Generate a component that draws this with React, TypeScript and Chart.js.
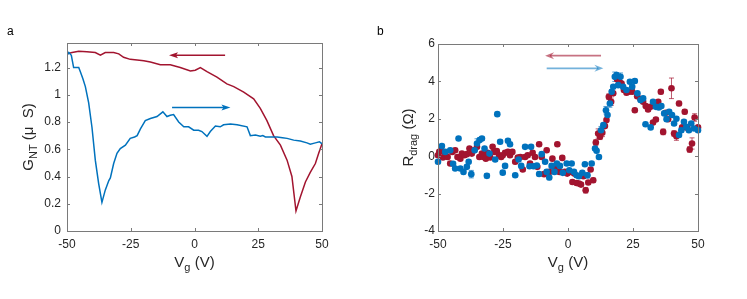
import React, { useEffect, useRef } from "react";
import { Chart, registerables } from "chart.js";
Chart.register(...registerables);

const RED = "#A2142F";
const BLUE = "#0072BD";
const FONT = "'Liberation Sans', Arial, Helvetica, sans-serif";

// Panel a: G_NT vs Vg, forward (blue) and backward (red) sweeps
const vgBlueA = [-50, -49.3, -48.3, -47.4, -45.4, -44.8, -43.8, -42.8, -41.5, -40.2, -38.9, -37.6, -36.3, -35, -33.6, -33, -31.7, -30.4, -29.1, -27.1, -25.2, -23.5, -22.5, -21.2, -19.3, -17.3, -14.7, -12.4, -10.8, -9.5, -8.2, -6.2, -4.2, -2.3, -0.3, 1.6, 2.9, 4.9, 6.2, 8.2, 10.1, 11.4, 14.1, 16.7, 20.6, 21.9, 23.9, 25.8, 26.8, 27.8, 29.7, 32.4, 34.5, 36.3, 38.9, 41.5, 44.1, 45.4, 47.4, 49, 50];
const gBlueA = [1.29, 1.31, 1.29, 1.2, 1.2, 1.17, 1.12, 1.06, 0.94, 0.76, 0.52, 0.35, 0.21, 0.3, 0.37, 0.39, 0.495, 0.57, 0.605, 0.63, 0.68, 0.69, 0.7, 0.75, 0.81, 0.826, 0.84, 0.875, 0.84, 0.85, 0.855, 0.8, 0.765, 0.765, 0.74, 0.74, 0.73, 0.695, 0.73, 0.77, 0.765, 0.78, 0.785, 0.78, 0.765, 0.7, 0.705, 0.695, 0.7, 0.69, 0.69, 0.69, 0.685, 0.68, 0.667, 0.66, 0.647, 0.637, 0.647, 0.655, 0.64];
const vgRedA = [-50, -48, -45.4, -42.2, -38.9, -36.9, -35, -31.7, -29.7, -27.8, -25.2, -22.5, -19.9, -17.3, -13.4, -9.5, -5.6, -1.6, 0.3, 2.3, 4.9, 8.8, 12.7, 15.4, 19.3, 23.2, 25.8, 28.4, 31, 33.7, 36.3, 38.2, 39.8, 41.5, 43.5, 45.4, 47.4, 48.7, 50];
const gRedA = [1.3, 1.31, 1.32, 1.316, 1.31, 1.29, 1.31, 1.31, 1.3, 1.275, 1.26, 1.255, 1.25, 1.24, 1.22, 1.22, 1.2, 1.175, 1.18, 1.2, 1.17, 1.13, 1.08, 1.06, 1.02, 0.97, 0.9, 0.81, 0.7, 0.63, 0.52, 0.4, 0.147, 0.25, 0.36, 0.43, 0.495, 0.57, 0.64];

// Panel b: R_drag vs Vg, [Vg, R, error]
const blueB: [number, number, number][] = [
  [-50, -0.3, 0.1], [-48.5, 0.54, 0.1], [-47.2, 0.23, 0.1], [-45.3, 0.32, 0.1], [-44.2, -0.4, 0.1], [-43.4, -0.66, 0.1],
  [-42.1, 0.95, 0.1], [-41.4, -0.66, 0.1], [-40.2, -0.84, 0.1], [-38.9, -0.57, 0.1], [-38.2, -0.3, 0.1], [-37.2, -0.96, 0.2],
  [-35.9, 0.32, 0.1], [-35, 0.68, 0.25], [-34, 0.86, 0.1], [-33.1, 0.95, 0.1], [-32.1, 0.41, 0.1], [-31.2, -1.05, 0.12],
  [-30.2, 0.14, 0.1], [-28, -0.18, 0.1], [-27.2, 2.25, 0.1], [-26.1, 0.77, 0.1], [-25.1, -0.88, 0.1], [-24.2, -0.52, 0.1],
  [-23.1, 0.82, 0.1], [-22.3, 0.64, 0.1], [-20.3, -1.02, 0.1], [-19, -0.18, 0.1], [-18, -0.52, 0.1], [-16.5, 0.5, 0.1],
  [-14.8, -0.54, 0.1], [-14.2, 0.5, 0.1], [-13.3, -0.54, 0.1], [-12, -0.5, 0.1], [-11.1, -0.95, 0.1], [-10.1, 0.11, 0.1],
  [-8.8, -0.3, 0.1], [-8.2, -0.84, 0.1], [-7.2, -1.14, 0.12], [-6.3, -0.52, 0.1], [-5.2, -0.84, 0.1], [-4.3, -0.39, 0.1],
  [-3.1, -0.52, 0.1], [-2, -0.89, 0.1], [-0.5, -0.39, 0.1], [0.5, -0.75, 0.1], [1.4, -0.39, 0.1], [2.3, -0.84, 0.1],
  [3.3, -1.02, 0.1], [4.2, -1.07, 0.1], [5.5, -0.89, 0.1], [6.5, -0.43, 0.1], [7.5, -1.02, 0.15], [9.1, -0.39, 0.1],
  [10.4, 0.41, 0.1], [11, 0.29, 0.1], [11.9, -0.04, 0.1], [12.7, 1.39, 0.2], [13.6, 1.66, 0.1], [14.6, 2.46, 0.2],
  [15.2, 2.2, 0.1], [16.1, 2.82, 0.2], [16.8, 3.45, 0.1], [17.4, 3.71, 0.1], [18, 4.25, 0.25], [18.7, 4.34, 0.1],
  [19.3, 3.8, 0.1], [20.2, 4.25, 0.2], [21.2, 3.71, 0.1], [22.5, 3.54, 0.1], [23.8, 3.98, 0.1], [24.7, 3.71, 0.1],
  [25.7, 4.02, 0.1], [26.7, 3.36, 0.1], [27.9, 3.0, 0.1], [28.9, 3.09, 0.1], [29.8, 1.71, 0.1], [31.8, 1.54, 0.1],
  [32.7, 2.91, 0.1], [33.8, 2.64, 0.1], [34.9, 2.61, 0.1], [35.9, 2.68, 0.1], [37, 2.29, 0.1], [37.9, 1.98, 0.1],
  [38.9, 2.38, 0.1], [40, 2.2, 0.1], [40.8, 1.75, 0.1], [41.7, 2.0, 0.1], [42.7, 1.13, 0.1], [43.6, 1.39, 0.1],
  [44.6, 1.84, 0.1], [45.5, 1.57, 0.1], [46.5, 1.39, 0.1], [47.4, 1.75, 0.1], [48.5, 1.48, 0.1], [50, 1.39, 0.1],
];
const redB: [number, number, number][] = [
  [-50, 0.05, 0.1], [-49.5, 0.23, 0.1], [-48.7, 0.32, 0.1], [-48.1, -0.07, 0.1], [-47.2, 0.14, 0.1], [-46.3, -0.04, 0.1],
  [-45.3, -0.39, 0.1], [-44.5, 0.23, 0.1], [-43.4, 0.32, 0.1], [-42.5, -0.04, 0.1], [-41.4, -0.13, 0.1], [-40.8, 0.14, 0.1],
  [-39.8, 0.05, 0.1], [-38.9, 0.11, 0.1], [-37.9, 0.41, 0.1], [-37, 0.14, 0.1], [-36.1, 0.32, 0.1], [-35, 0.5, 0.1],
  [-34.1, -0.04, 0.1], [-33.1, 0.14, 0.1], [-32.5, -0.04, 0.1], [-31.6, -0.13, 0.1], [-30.9, 0.18, 0.1], [-29.9, -0.07, 0.1],
  [-29, 0.5, 0.1], [-28.4, 0.23, 0.1], [-27.4, 0.27, 0.1], [-26.5, 0.05, 0.1], [-25.7, -0.04, 0.1], [-25.1, 0.05, 0.1],
  [-24.2, 0.18, 0.1], [-23.1, 0.23, 0.1], [-22.3, 0.05, 0.1], [-21.4, 0.23, 0.1], [-20.3, -0.3, 0.1], [-19.3, -0.07, 0.1],
  [-18.3, -0.04, 0.1], [-17.4, -0.71, 0.1], [-16.5, -0.04, 0.1], [-15.5, 0.05, 0.1], [-14.6, -0.39, 0.1], [-13.6, 0.18, 0.1],
  [-12.7, -0.04, 0.1], [-11.8, -0.57, 0.1], [-11.1, 0.64, 0.1], [-10.1, -0.04, 0.1], [-9.2, -0.96, 0.1], [-8.2, 0.32, 0.1],
  [-7.2, -0.84, 0.1], [-6, -0.13, 0.1], [-5, -0.57, 0.1], [-4.1, 0.64, 0.1], [-3.3, -0.84, 0.1], [-2.2, -0.09, 0.1],
  [-1.2, -0.84, 0.1], [-0.3, -0.93, 0.1], [0.8, -0.84, 0.1], [1.7, -1.38, 0.1], [2.4, -0.93, 0.1], [3.3, -1.43, 0.1],
  [4.2, -1.46, 0.1], [5, -1.52, 0.1], [5.9, -1.07, 0.1], [6.8, -1.82, 0.15], [7.8, -1.41, 0.1], [8.7, -0.71, 0.1],
  [9.7, -1.29, 0.12], [10.7, 0.73, 0.15], [11.6, 1.21, 0.25], [12.3, 1.04, 0.15], [13.2, 1.25, 0.2], [14.2, 1.61, 0.1],
  [14.8, 1.93, 0.1], [15.7, 3.18, 0.15], [16.6, 2.91, 0.2], [17.4, 3.36, 0.1], [18.4, 4.25, 0.1], [18.9, 4.11, 0.1],
  [19.7, 3.98, 0.1], [20.6, 3.89, 0.1], [21.5, 3.54, 0.1], [22.5, 3.39, 0.1], [23.5, 3.45, 0.1], [24.7, 3.45, 0.1],
  [25.7, 2.46, 0.1], [26.6, 3.21, 0.1], [27.9, 3.05, 0.1], [28.9, 2.91, 0.1], [29.9, 2.68, 0.1], [30.8, 2.5, 0.1],
  [31.7, 2.64, 0.1], [32.7, 1.8, 0.1], [33.8, 1.96, 0.1], [34.7, 2.91, 0.1], [35.7, 3.45, 0.12], [36.6, 1.3, 0.15],
  [37.6, 2.32, 0.1], [38.5, 1.98, 0.1], [39.8, 3.63, 0.55], [40.8, 1.21, 0.15], [41.7, 1.07, 0.22], [42.7, 2.82, 0.12],
  [43.9, 1.54, 0.1], [44.9, 2.38, 0.12], [45.8, 1.54, 0.15], [46.8, 0.36, 0.15], [47.7, 0.68, 0.3], [48.7, 2.07, 0.2],
  [50, 1.54, 0.1],
];

const xTicks = [-50, -25, 0, 25, 50];
const xTickLabels = ["-50", "-25", "0", "25", "50"];
const yTicksA = [0, 0.2, 0.4, 0.6, 0.8, 1, 1.2];
const yTickLabelsA = ["0", "0.2", "0.4", "0.6", "0.8", "1", "1.2"];
const yTicksB = [-4, -2, 0, 2, 4, 6];
const yTickLabelsB = ["-4", "-2", "0", "2", "4", "6"];

// arrows: [fromX, fromY, toX, toY]
const arrowsA = [
  { from: [12, 1.29], to: [-10, 1.29], color: RED, head: "plain" },
  { from: [-8.8, 0.907], to: [14.1, 0.907], color: BLUE, head: "plain" },
];
const arrowsB = [
  { from: [12.7, 5.375], to: [-8.8, 5.375], color: "rgba(162,20,47,0.6)", head: "notch" },
  { from: [-8.2, 4.7], to: [13.6, 4.7], color: "rgba(0,114,189,0.55)", head: "notch" },
];

type Part = { t: string; sub?: boolean };
const xTitle: Part[] = [{ t: "V" }, { t: "g", sub: true }, { t: " (V)" }];
const yTitleA: Part[] = [{ t: "G" }, { t: "NT", sub: true }, { t: " (\u03BC  S)" }];
const yTitleB: Part[] = [{ t: "R" }, { t: "drag", sub: true }, { t: " (\u03A9)" }];

function drawRich(ctx: CanvasRenderingContext2D, parts: Part[], cx: number, baseY: number) {
  const main = `15px ${FONT}`;
  const sub = `11px ${FONT}`;
  let total = 0;
  for (const p of parts) {
    ctx.font = p.sub ? sub : main;
    total += ctx.measureText(p.t).width;
  }
  let x = cx - total / 2;
  ctx.textAlign = "left";
  ctx.textBaseline = "alphabetic";
  for (const p of parts) {
    ctx.font = p.sub ? sub : main;
    ctx.fillText(p.t, x, baseY + (p.sub ? 4 : 0));
    x += ctx.measureText(p.t).width;
  }
}

const decor = {
  id: "decor",
  beforeDatasetsDraw(chart: any, _a: any, opts: any) {
    if (!opts.errorBars) return;
    const ctx = chart.ctx;
    const xs = chart.scales.x, ys = chart.scales.y;
    ctx.save();
    chart.data.datasets.forEach((ds: any) => {
      ctx.strokeStyle = ds.errColor;
      ctx.lineWidth = 1;
      ds.data.forEach((p: any) => {
        const px = xs.getPixelForValue(p.x);
        const y1 = ys.getPixelForValue(p.y - p.e);
        const y2 = ys.getPixelForValue(p.y + p.e);
        ctx.beginPath();
        ctx.moveTo(px, y1); ctx.lineTo(px, y2);
        ctx.moveTo(px - 2.5, y1); ctx.lineTo(px + 2.5, y1);
        ctx.moveTo(px - 2.5, y2); ctx.lineTo(px + 2.5, y2);
        ctx.stroke();
      });
    });
    ctx.restore();
  },
  afterDraw(chart: any, _a: any, opts: any) {
    const ctx = chart.ctx;
    const { left, right, top, bottom } = chart.chartArea;
    const xs = chart.scales.x, ys = chart.scales.y;
    ctx.save();
    // arrows
    for (const a of opts.arrows) {
      const x1 = xs.getPixelForValue(a.from[0]), y1 = ys.getPixelForValue(a.from[1]);
      const x2 = xs.getPixelForValue(a.to[0]), y2 = ys.getPixelForValue(a.to[1]);
      const dir = Math.sign(x2 - x1);
      ctx.strokeStyle = a.color;
      ctx.fillStyle = a.color;
      ctx.lineWidth = a.head === "notch" ? 1.8 : 1.4;
      ctx.beginPath();
      ctx.moveTo(x1, y1);
      ctx.lineTo(x2 - dir * 5, y2);
      ctx.stroke();
      ctx.beginPath();
      if (a.head === "notch") {
        ctx.moveTo(x2, y2);
        ctx.lineTo(x2 - dir * 9, y2 - 3.5);
        ctx.lineTo(x2 - dir * 6, y2);
        ctx.lineTo(x2 - dir * 9, y2 + 3.5);
      } else {
        ctx.moveTo(x2, y2);
        ctx.lineTo(x2 - dir * 9, y2 - 3);
        ctx.lineTo(x2 - dir * 7, y2);
        ctx.lineTo(x2 - dir * 9, y2 + 3);
      }
      ctx.closePath();
      ctx.fill();
    }
    // frame
    ctx.strokeStyle = "#7a7a7a";
    ctx.lineWidth = 1;
    ctx.strokeRect(Math.round(left) + 0.5, Math.round(top) + 0.5, Math.round(right - left), Math.round(bottom - top));
    ctx.beginPath();
    const tl = 3;
    for (const v of opts.xTicks) {
      const px = Math.round(xs.getPixelForValue(v)) + 0.5;
      ctx.moveTo(px, bottom); ctx.lineTo(px, bottom - tl);
      ctx.moveTo(px, top); ctx.lineTo(px, top + tl);
    }
    for (const v of opts.yTicks) {
      const py = Math.round(ys.getPixelForValue(v)) + 0.5;
      ctx.moveTo(left, py); ctx.lineTo(left + tl, py);
      ctx.moveTo(right, py); ctx.lineTo(right - tl, py);
    }
    ctx.stroke();
    // titles
    ctx.fillStyle = "#262626";
    drawRich(ctx, xTitle, (left + right) / 2, 267);
    ctx.translate(opts.yTitleX, (top + bottom) / 2);
    ctx.rotate(-Math.PI / 2);
    drawRich(ctx, opts.yTitle, 0, 0);
    ctx.setTransform(1, 0, 0, 1, 0, 0);
    // panel label
    ctx.font = `12px ${FONT}`;
    ctx.textAlign = "left";
    ctx.textBaseline = "alphabetic";
    ctx.fillStyle = "#000";
    ctx.fillText(opts.label, opts.labelX, 35);
    ctx.restore();
  },
};

function axisCommon(ticks: number[], labels: string[], padding: number, fitKey: "width" | "height", fitVal: number, min: number, max: number) {
  return {
    type: "linear",
    min,
    max,
    grid: { display: false, drawTicks: false },
    border: { display: false },
    afterBuildTicks: (s: any) => { s.ticks = ticks.map((v) => ({ value: v })); },
    afterFit: (s: any) => { s[fitKey] = fitVal; },
    ticks: {
      padding,
      autoSkip: false,
      maxRotation: 0,
      color: "#262626",
      font: { family: FONT, size: 12 },
      callback: (v: number) => { const i = ticks.findIndex((t) => Math.abs(t - v) < 1e-9); return i >= 0 ? labels[i] : ""; },
    },
  };
}

export default function App() {
  const refA = useRef<HTMLCanvasElement>(null);
  const refB = useRef<HTMLCanvasElement>(null);
  useEffect(() => {
    const chartA = new Chart(refA.current!, {
      type: "scatter",
      data: {
        datasets: [
          { data: vgBlueA.map((v, i) => ({ x: v, y: gBlueA[i] })), showLine: true, borderColor: BLUE, borderWidth: 1.5, pointRadius: 0, tension: 0 },
          { data: vgRedA.map((v, i) => ({ x: v, y: gRedA[i] })), showLine: true, borderColor: RED, borderWidth: 1.5, pointRadius: 0, tension: 0 },
        ],
      },
      options: {
        animation: false,
        responsive: false,
        devicePixelRatio: 1,
        layout: { padding: { left: 0, top: 43, right: 51, bottom: 0 } },
        plugins: {
          legend: { display: false },
          tooltip: { enabled: false },
          decor: { arrows: arrowsA, xTicks, yTicks: yTicksA, yTitle: yTitleA, yTitleX: 33, label: "a", labelX: 7 },
        } as any,
        scales: {
          x: axisCommon(xTicks, xTickLabels, 6, "height", 68, -50, 50),
          y: axisCommon(yTicksA, yTickLabelsA, 6, "width", 67, 0, 1.38),
        } as any,
      },
      plugins: [decor as any],
    });
    const chartB = new Chart(refB.current!, {
      type: "scatter",
      data: {
        datasets: [
          { data: blueB.map((p) => ({ x: p[0], y: p[1], e: p[2] })), clip: false, backgroundColor: BLUE, borderColor: BLUE, borderWidth: 0, pointRadius: 3.3, errColor: "rgba(0,114,189,0.7)" } as any,
          { data: redB.map((p) => ({ x: p[0], y: p[1], e: p[2] })), clip: false, backgroundColor: RED, borderColor: RED, borderWidth: 0, pointRadius: 3.3, errColor: "rgba(162,20,47,0.7)" } as any,
        ],
      },
      options: {
        animation: false,
        responsive: false,
        devicePixelRatio: 1,
        layout: { padding: { left: 0, top: 44, right: 49, bottom: 0 } },
        plugins: {
          legend: { display: false },
          tooltip: { enabled: false },
          decor: { errorBars: true, arrows: arrowsB, xTicks, yTicks: yTicksB, yTitle: yTitleB, yTitleX: 40, label: "b", labelX: 4 },
        } as any,
        scales: {
          x: axisCommon(xTicks, xTickLabels, 6, "height", 68, -50, 50),
          y: axisCommon(yTicksB, yTickLabelsB, 3, "width", 65, -4, 6),
        } as any,
      },
      plugins: [decor as any],
    });
    return () => { chartA.destroy(); chartB.destroy(); };
  }, []);
  return (
    <div style={{ position: "fixed", left: 0, top: 0, width: 747, height: 299, background: "#fff" }}>
      <canvas ref={refA} width={373} height={299} style={{ position: "absolute", left: 0, top: 0, width: 373, height: 299 }} />
      <canvas ref={refB} width={374} height={299} style={{ position: "absolute", left: 373, top: 0, width: 374, height: 299 }} />
    </div>
  );
}
